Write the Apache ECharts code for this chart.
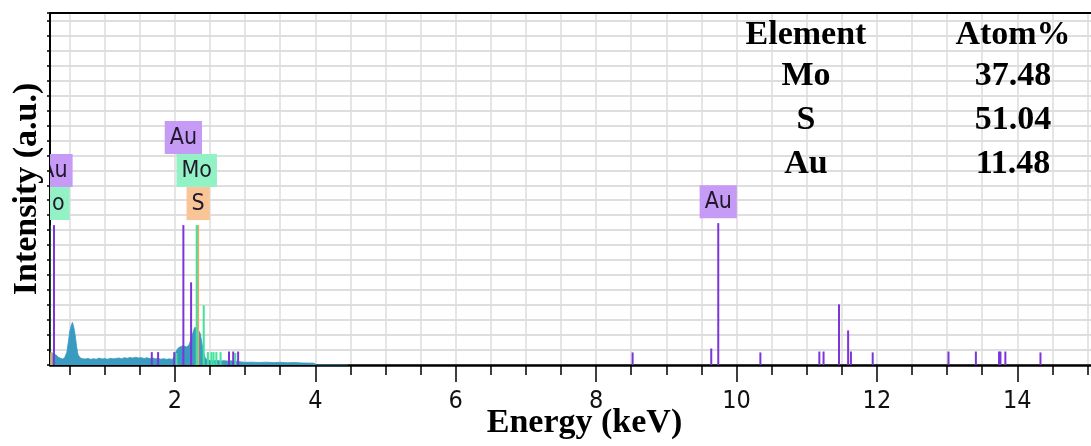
<!DOCTYPE html>
<html><head><meta charset="utf-8">
<script src="https://cdn.jsdelivr.net/npm/echarts@6/dist/echarts.min.js"></script>
<style>html,body{margin:0;padding:0;background:#fff}#c{width:1091px;height:446px}</style>
</head><body><div id="c"></div>
<script>
// ---- data ----
const xTickValues = [0.5,1,1.5,2,2.5,3,3.5,4,4.5,5,5.5,6,6.5,7,7.5,8,8.5,9,9.5,10,10.5,11,11.5,12,12.5,13,13.5,14,14.5,15];
const xLabelValues = [2,4,6,8,10,12,14];
const spectrum = [
 [0.22,0.75],[0.25,0.8],[0.28,0.72],[0.31,0.66],[0.34,0.52],[0.37,0.45],[0.40,0.40],[0.43,0.5],[0.46,0.85],[0.48,1.5],
 [0.50,2.2],[0.52,2.6],[0.54,2.85],[0.56,2.5],[0.58,1.95],[0.60,1.2],[0.62,0.68],[0.65,0.48],[0.68,0.42],
 [0.72,0.40],[0.76,0.44],[0.80,0.38],[0.84,0.42],[0.88,0.39],[0.92,0.46],[0.96,0.40],[1.00,0.43],[1.04,0.38],[1.08,0.45],
 [1.12,0.41],[1.16,0.44],[1.20,0.47],[1.24,0.42],[1.28,0.49],[1.32,0.45],[1.36,0.50],[1.40,0.46],[1.44,0.52],[1.48,0.47],
 [1.52,0.49],[1.56,0.44],[1.60,0.48],[1.64,0.43],[1.68,0.47],[1.72,0.41],[1.76,0.44],[1.80,0.39],[1.84,0.42],[1.88,0.38],
 [1.92,0.41],[1.96,0.37],[1.99,0.55],[2.02,0.95],[2.05,1.15],[2.08,1.22],[2.11,1.28],[2.14,1.25],[2.17,1.2],[2.20,1.35],
 [2.22,1.6],[2.24,1.95],[2.26,2.2],[2.28,2.5],[2.30,2.55],[2.32,2.45],[2.34,2.4],[2.36,2.1],[2.38,1.6],[2.40,1.0],
 [2.42,0.6],[2.44,0.42],[2.47,0.33],[2.50,0.3],[2.55,0.28],[2.60,0.3],[2.65,0.27],[2.70,0.29],[2.75,0.26],[2.80,0.28],
 [2.85,0.25],[2.90,0.24],[2.95,0.2],[3.00,0.18],[3.10,0.19],[3.20,0.17],[3.30,0.19],[3.40,0.16],[3.50,0.18],[3.60,0.15],
 [3.70,0.17],[3.80,0.14],[3.90,0.13],[3.98,0.12],[4.02,0],[4.40,0],[4.42,0.1],[4.46,0]
];
const auLines = [
 [0.277,9.34],[1.67,0.86],[1.76,0.86],[1.99,0.86],[2.12,9.34],[2.23,5.52],[2.77,0.9],[2.83,0.9],[2.90,0.9],
 [8.52,0.84],[9.64,1.1],[9.74,9.47],[10.34,0.84],[11.18,0.9],[11.24,0.9],[11.46,4.05],[11.59,2.31],[11.63,0.9],
 [11.94,0.84],[13.02,0.9],[13.41,0.9],[13.74,0.9],[13.76,0.9],[13.83,0.9],[14.33,0.84]
];
const moLines = [
 [0.21,9.34],[2.02,0.8],[2.31,9.34],[2.41,3.98],[2.47,0.86],[2.52,0.86],[2.55,0.86],[2.59,0.86],[2.65,0.86],[2.86,0.8]
];
const sLines = [
 [0.24,0.84],[2.33,9.34]
];
const auLabelPeaks = [0.277, 2.12, 9.74];
const moLabelPeaks = [0.21, 2.31];
const sLabelPeaks = [2.33];
const tableHeader = ['Element', 'Atom%'];
const tableElements = ['Mo', 'S', 'Au'];
const tableAtomPct = ['37.48', '51.04', '11.48'];

// ---- chart ----
const chart = echarts.init(document.getElementById('c'), null, {renderer: 'canvas'});
const narrow = '"Liberation Sans Narrow", "DejaVu Sans Condensed", "Arial Narrow", sans-serif';
const serif = '"Liberation Serif", "Times New Roman", serif';

const elementDefs = [
  {name: 'S',  lines: sLines,  peaks: sLabelPeaks,  color: '#f2a55c', bg: '#f9c597', order: 0},
  {name: 'Mo', lines: moLines, peaks: moLabelPeaks, color: '#3fe39a', bg: '#93f2c5', order: 1},
  {name: 'Au', lines: auLines, peaks: auLabelPeaks, color: '#7b35d9', bg: '#c69bf6', order: 2}
];
function slotOf(def, x) {
  let s = 0;
  elementDefs.forEach(d => {
    if (d.order < def.order && d.peaks.some(p => Math.abs(p - x) < 0.3)) s++;
  });
  return s;
}
function markerSeries(def) {
  return {
    type: 'custom', name: def.name, xAxisIndex: 0, yAxisIndex: 0, clip: true, z: 3,
    data: def.lines,
    renderItem: function (params, api) {
      const x = api.value(0), h = api.value(1);
      const p0 = api.coord([x, 0]), p1 = api.coord([x, h]);
      const children = [{type: 'line', shape: {x1: p0[0], y1: p0[1], x2: p1[0], y2: p1[1]},
        style: {stroke: def.color, lineWidth: 2}}];
      if (def.peaks.some(p => Math.abs(p - x) < 0.005)) {
        const slot = slotOf(def, x);
        children.push({type: 'text', x: p1[0], y: p1[1] - 5 - slot * 33,
          style: {text: def.name, align: 'center', verticalAlign: 'bottom',
            font: '23px ' + narrow, fill: '#20182c', backgroundColor: def.bg,
            padding: [4, 5, 3, 5], lineHeight: 26}});
      }
      return {type: 'group', children: children};
    }
  };
}

const tableGraphics = [];
const colX = [806, 1013];
const rowY = [35, 76, 120, 164];
tableHeader.forEach((t, i) => tableGraphics.push({type: 'text', x: colX[i], y: rowY[0], z: 100,
  style: {text: t, font: 'bold 34px ' + serif, fill: '#000', align: 'center', verticalAlign: 'middle'}}));
tableElements.forEach((t, i) => {
  tableGraphics.push({type: 'text', x: colX[0], y: rowY[i + 1], z: 100,
    style: {text: t, font: 'bold 34px ' + serif, fill: '#000', align: 'center', verticalAlign: 'middle'}});
  tableGraphics.push({type: 'text', x: colX[1], y: rowY[i + 1], z: 100,
    style: {text: tableAtomPct[i], font: 'bold 34px ' + serif, fill: '#000', align: 'center', verticalAlign: 'middle'}});
});

const xMin = 0.22, xMax = 15.05;
chart.setOption({
  animation: false,
  backgroundColor: '#fff',
  grid: {left: 50, top: 13, right: 0, bottom: 81, containLabel: false, outerBoundsMode: 'none'},
  xAxis: [
    {type: 'value', min: xMin, max: xMax, position: 'bottom',
     name: 'Energy (keV)', nameLocation: 'middle', nameGap: 41, nameMoveOverlap: false,
     nameTextStyle: {fontFamily: serif, fontWeight: 'bold', fontSize: 34, color: '#000', padding: [0, 0, 0, 28]},
     axisLine: {show: true, onZero: false, lineStyle: {color: '#000', width: 2.5}},
     axisTick: {show: true, length: 10, customValues: xTickValues, lineStyle: {color: '#000', width: 1.5}},
     axisLabel: {show: true, customValues: xLabelValues, margin: 24, fontFamily: narrow, fontSize: 25, color: '#111'},
     splitLine: {show: true, lineStyle: {color: '#dcdcdc', width: 1.5}}},
    {type: 'value', min: xMin, max: xMax, position: 'bottom',
     axisLine: {show: false},
     axisTick: {show: true, length: 17, customValues: xLabelValues, lineStyle: {color: '#000', width: 1.5}},
     axisLabel: {show: false}, splitLine: {show: false}},
    {type: 'value', min: xMin, max: xMax, position: 'top',
     axisLine: {show: true, onZero: false, lineStyle: {color: '#000', width: 2}},
     axisTick: {show: false}, axisLabel: {show: false}, splitLine: {show: false}}
  ],
  yAxis: {type: 'value', min: 0, max: 23.5, interval: 1,
    name: 'Intensity (a.u.)', nameLocation: 'middle', nameGap: 6, nameRotate: 90,
    nameTextStyle: {fontFamily: serif, fontWeight: 'bold', fontSize: 34, color: '#000'},
    axisLine: {show: true, onZero: false, lineStyle: {color: '#000', width: 2}},
    axisTick: {show: true, length: 3, lineStyle: {color: '#000', width: 1.5}},
    axisLabel: {show: false},
    splitLine: {show: true, lineStyle: {color: '#dedede', width: 2}}},
  series: [
    {type: 'line', name: 'spectrum', data: spectrum, xAxisIndex: 0, yAxisIndex: 0,
     showSymbol: false, symbol: 'none', z: 2,
     lineStyle: {color: '#3a9bc1', width: 0.8},
     areaStyle: {color: '#3a9bc1', opacity: 1}},
    markerSeries(elementDefs[0]),
    markerSeries(elementDefs[1]),
    markerSeries(elementDefs[2])
  ],
  graphic: tableGraphics
});
</script>
</body></html>
